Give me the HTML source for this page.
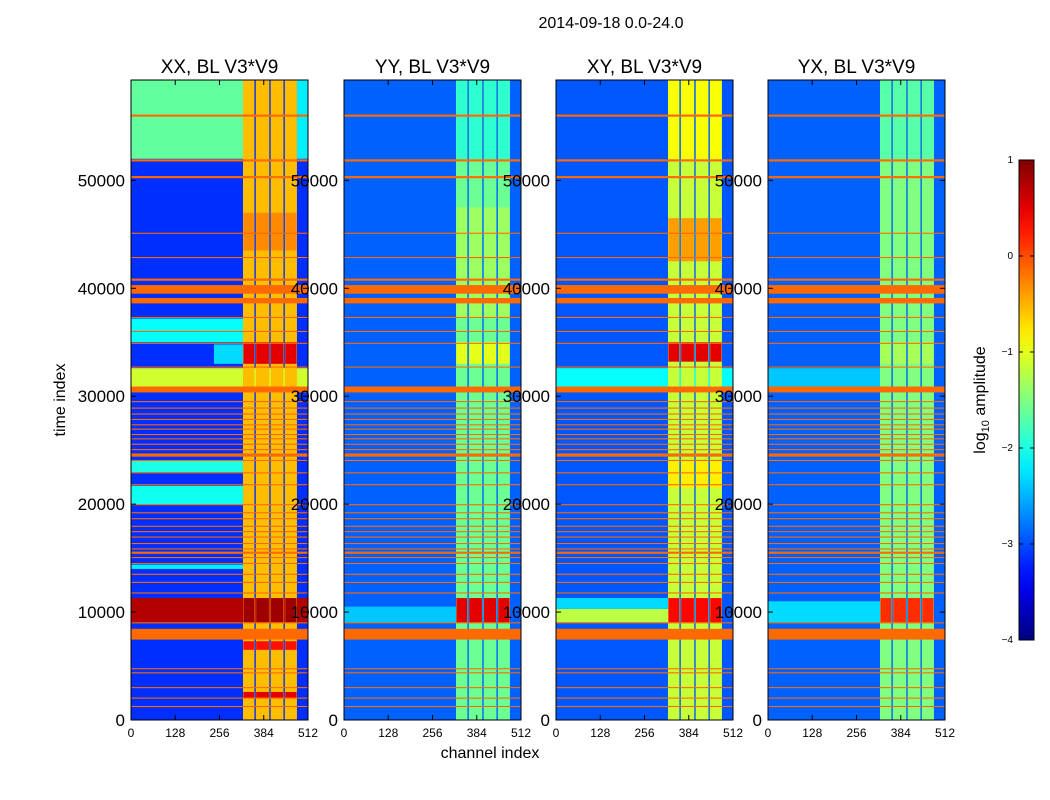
<!DOCTYPE html>
<html><head><meta charset="utf-8"><style>
body{margin:0;background:#fff;}
svg{display:block;font-family:"Liberation Sans",sans-serif;}
</style></head><body>
<svg id="chart" width="1050" height="800" viewBox="0 0 1050 800"></svg>
<script>
const panelNames=['XX, BL V3*V9','YY, BL V3*V9','XY, BL V3*V9','YX, BL V3*V9'];
const yTicks=[0,10000,20000,30000,40000,50000];
const xTicks=[0,128,256,384,512];
const cbTicks=[1,0,-1,-2,-3,-4];
const channelBands=[[324,357],[361,400],[404,441],[445,480]];
const baseValue=[-3.15,-2.9,-2.95,-2.9];
const bandValue=[-0.55,-1.6,-1.15,-1.5];
const flagRows=[[55900,56100],[51750,51950],[50200,50400],[45050,45150],[42800,42900],[40700,40900],[39500,40300],[38600,39100],[37250,37350],[35950,36050],[34850,34950],[32650,32750],[30350,30900],[29450,29550],[28850,28950],[28300,28400],[27800,27900],[27300,27400],[26900,27000],[26400,26500],[26000,26100],[25500,25600],[25000,25100],[24400,24700],[24000,24100],[22850,22950],[21750,21850],[19900,20000],[19150,19250],[18600,18700],[17900,18000],[17400,17500],[16900,17000],[16300,16400],[15800,15900],[15400,15600],[15000,15100],[14450,14550],[13450,13550],[12700,12800],[11720,11820],[8950,9050],[7450,8450],[4700,4800],[4320,4420],[2950,3050],[1980,2080],[1200,1300]];
const regions=[
[0,52000,59300,0,324,-1.65],[0,52000,59300,480,512,-2.2],[0,30900,32600,0,512,-1.1],[0,35000,37200,0,324,-2.1],[0,33000,34800,240,324,-2.3],
[0,19950,21700,0,324,-2.05],[0,22950,24000,0,324,-2.0],[0,14000,14400,0,324,-2.2],[0,9050,11300,0,512,0.75],
[1,9000,10500,0,324,-2.4],[2,30900,32600,0,512,-2.1],[2,9050,10300,0,324,-1.2],[2,10300,11300,0,324,-2.3],
[3,30900,32600,0,324,-2.4],[3,9000,11000,0,324,-2.3]];
const bandBlocks=[
[0,33000,35000,0.5],[0,9050,11300,0.85],[0,6500,7300,0.3],[0,2000,2600,0.5],[0,43500,47000,-0.3],
[1,9050,11300,0.5],[1,33000,35000,-1.0],[1,37300,47500,-1.35],[1,52000,59300,-1.9],
[2,33200,35000,0.5],[2,9050,11300,0.35],[2,42500,46500,-0.4],[2,52000,59300,-0.9],[2,21500,24000,-0.8],
[3,9050,11300,0.15],[3,33000,35000,-1.3],[3,52000,59300,-1.7]];
const panelX=[131,344,556,768],panelW=177,plotTop=80,plotBot=720,tMax=59300;
const svg=document.getElementById('chart');
const NS='http://www.w3.org/2000/svg';
function jet(v){const x=Math.max(0,Math.min(1,(v+4)/5));const c=f=>Math.round(255*Math.max(0,Math.min(1,f)));return `rgb(${c(1.5-Math.abs(4*x-3))},${c(1.5-Math.abs(4*x-2))},${c(1.5-Math.abs(4*x-1))})`;}
function ty(t){return plotBot-(t/tMax)*(plotBot-plotTop);}
function cx(p,c){return panelX[p]+c/512*panelW;}
function mk(tag,attrs,parent){const e=document.createElementNS(NS,tag);for(const k in attrs)e.setAttribute(k,attrs[k]);(parent||svg).appendChild(e);return e;}
function txt(x,y,s,size,anchor,parent){const e=mk('text',{x:x,y:y,'font-size':size,'text-anchor':anchor||'middle',fill:'#000'},parent);e.textContent=s;return e;}
function cell(p,t0,t1,c0,c1,v,g){const y0=ty(t1),y1=ty(t0);return mk('rect',{x:cx(p,c0),y:y0,width:cx(p,c1)-cx(p,c0),height:Math.max(1,y1-y0),fill:v===null?'#ff6a00':jet(v)},g);}
for(let p=0;p<4;p++){
  const g=mk('g',{});
  
  
  const b=cell(p,0,tMax,0,512,baseValue[p],g);
  
  
  regions.filter(r=>r[0]===p).forEach(r=>{const e=cell(p,r[1],r[2],r[3],r[4],r[5],g);
    
    });
  channelBands.forEach(cb=>{const e=cell(p,0,tMax,cb[0],cb[1],bandValue[p],g);
    
    });
  bandBlocks.filter(r=>r[0]===p).forEach(r=>channelBands.forEach(cb=>{const e=cell(p,r[1],r[2],cb[0]+1,cb[1]-1,r[3],g);
    
    }));
  flagRows.forEach(f=>{const e=cell(p,f[0],f[1],0,512,null,g);
    
    });
  const fr=mk('rect',{x:panelX[p],y:plotTop,width:panelW,height:plotBot-plotTop,fill:'none',stroke:'#000','stroke-width':1},g);
  
  
  yTicks.forEach(t=>{const y=ty(t);
    mk('line',{x1:panelX[p],x2:panelX[p]+5,y1:y,y2:y,stroke:'#000'},g);
    mk('line',{x1:panelX[p]+panelW,x2:panelX[p]+panelW-5,y1:y,y2:y,stroke:'#000'},g);
    const l=txt(panelX[p]-6,y+6,String(t),17,'end',g);
    
    });
  xTicks.forEach(c=>{const x=cx(p,c);
    mk('line',{x1:x,x2:x,y1:plotBot,y2:plotBot-5,stroke:'#000'},g);
    mk('line',{x1:x,x2:x,y1:plotTop,y2:plotTop+5,stroke:'#000'},g);
    const l=txt(x,737,String(c),12,'middle',g);
    
    });
  const tl=txt(panelX[p]+panelW/2,73,panelNames[p],19,'middle',g);
  
  
}
const title=txt(611,28,'2014-09-18 0.0-24.0',16);


const xl=txt(490,758,'channel index',16);


const yl=txt(0,0,'time index',16);
yl.setAttribute('transform','translate(65,400) rotate(-90)');


const defs=mk('defs',{});
const grad=mk('linearGradient',{id:'jetg',x1:0,y1:1,x2:0,y2:0},defs);
for(let i=0;i<=20;i++){mk('stop',{offset:i/20,'stop-color':jet(-4+5*i/20)},grad);}
const cbar=mk('rect',{x:1019,y:160,width:15,height:480,fill:'url(#jetg)',stroke:'#000'});


cbTicks.forEach(v=>{const y=640-(v+4)/5*480;
  mk('line',{x1:1019,x2:1023,y1:y,y2:y,stroke:'#000'});
  mk('line',{x1:1034,x2:1030,y1:y,y2:y,stroke:'#000'});
  const l=txt(1013,y+3,v<0?'\u2212'+(-v):String(v),10,'end');
  
  });
const cl=mk('text',{transform:'translate(985,400) rotate(-90)','font-size':16,'text-anchor':'middle',fill:'#000'});
cl.innerHTML='log<tspan font-size="11" dy="4">10</tspan><tspan dy="-4"> amplitude</tspan>';


</script>
</body></html>
